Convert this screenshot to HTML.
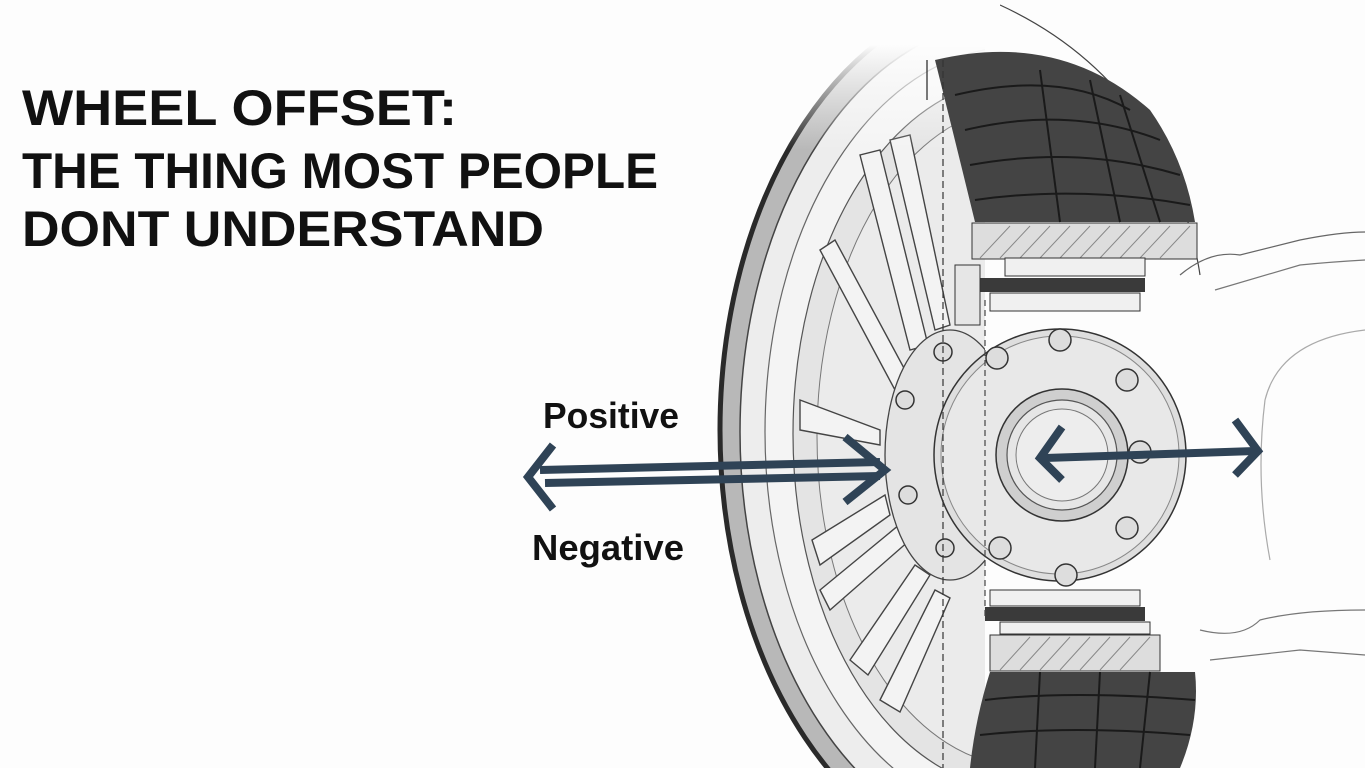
<!DOCTYPE html>
<html><head><meta charset="utf-8"><style>
html,body{margin:0;padding:0;background:#fff;width:1365px;height:768px;overflow:hidden}
svg{display:block}
</style></head><body>
<svg width="1365" height="768" viewBox="0 0 1365 768" xmlns="http://www.w3.org/2000/svg">
<defs>
<clipPath id="L"><rect x="0" y="0" width="985" height="768"/></clipPath>
<linearGradient id="fade" x1="0" y1="0" x2="0" y2="1">
<stop offset="0" stop-color="#fdfdfd"/><stop offset="0.3" stop-color="#fdfdfd"/><stop offset="1" stop-color="#fdfdfd" stop-opacity="0"/>
</linearGradient>
</defs>
<rect width="1365" height="768" fill="#fdfdfd"/>
<!-- car body outline -->
<path d="M1000 5 Q1120 60 1175 180 Q1195 240 1200 275" fill="none" stroke="#444" stroke-width="1.2"/>
<path d="M1180 275 Q1210 250 1240 255 Q1280 245 1300 240 Q1340 232 1365 232" fill="none" stroke="#666" stroke-width="1.2"/>
<path d="M1215 290 L1300 265 Q1330 262 1365 260" fill="none" stroke="#777" stroke-width="1.2"/>
<path d="M1265 400 Q1255 480 1270 560 M1265 400 Q1280 340 1365 330" fill="none" stroke="#aaa" stroke-width="1.2"/>
<path d="M1200 630 Q1240 640 1260 620 Q1300 610 1365 610 M1210 660 L1300 650 L1365 655" fill="none" stroke="#777" stroke-width="1.2"/>
<!-- tire sidewall + rim -->
<g clip-path="url(#L)">
<ellipse cx="1010" cy="430" rx="290" ry="435" fill="#b8b8b8" stroke="#2a2a2a" stroke-width="5"/>
<ellipse cx="1012" cy="432" rx="272" ry="412" fill="#ededed" stroke="#444" stroke-width="1.5"/>
<ellipse cx="1015" cy="432" rx="250" ry="385" fill="#f4f4f4" stroke="#666" stroke-width="1.2"/>
<ellipse cx="1018" cy="434" rx="225" ry="355" fill="#e4e4e4" stroke="#555" stroke-width="1.2"/>
<ellipse cx="1022" cy="436" rx="205" ry="330" fill="#ebebeb" stroke="#777" stroke-width="1"/>
<g stroke="#444" stroke-width="1.4" fill="#f3f3f3">
<path d="M860 155 L910 350 L928 345 L880 150 Z"/>
<path d="M890 140 L935 330 L950 325 L910 135 Z"/>
<path d="M820 250 L895 390 L905 370 L835 240 Z"/>
<path d="M800 400 L880 430 L880 445 L800 430 Z"/>
<path d="M812 540 L885 495 L890 515 L820 565 Z"/>
<path d="M820 590 L905 520 L910 540 L830 610 Z"/>
<path d="M850 660 L915 565 L930 575 L868 675 Z"/>
<path d="M880 700 L935 590 L950 598 L900 712 Z"/>
</g>
<ellipse cx="950" cy="455" rx="65" ry="125" fill="#e4e4e4" stroke="#444" stroke-width="1.3"/>
</g>
<rect x="700" y="0" width="300" height="150" fill="url(#fade)"/>
<!-- dark tread top -->
<path d="M935 60 Q1060 30 1150 110 Q1185 160 1195 222 L975 222 Q955 140 935 60 Z" fill="#444"/>
<g stroke="#1a1a1a" stroke-width="2" fill="none">
<path d="M955 95 Q1060 70 1130 110"/><path d="M965 130 Q1070 105 1160 140"/><path d="M970 165 Q1080 145 1180 175"/><path d="M975 200 Q1080 185 1190 205"/>
<path d="M1040 70 L1060 222"/><path d="M1090 80 L1120 222"/><path d="M1120 95 L1160 222"/>
</g>
<rect x="972" y="223" width="225" height="36" fill="#ddd" stroke="#333"/>
<g stroke="#888" stroke-width="1"><path d="M980 258 L1010 226 M1000 258 L1030 226 M1020 258 L1050 226 M1040 258 L1070 226 M1060 258 L1090 226 M1080 258 L1110 226 M1100 258 L1130 226 M1120 258 L1150 226 M1140 258 L1170 226 M1160 258 L1190 226"/></g>
<rect x="1005" y="258" width="140" height="18" fill="#f0f0f0" stroke="#333"/>
<rect x="975" y="278" width="170" height="14" fill="#3a3a3a"/>
<rect x="990" y="293" width="150" height="18" fill="#f0f0f0" stroke="#333"/>
<rect x="955" y="265" width="25" height="60" fill="#e6e6e6" stroke="#333"/>
<rect x="990" y="590" width="150" height="16" fill="#f0f0f0" stroke="#333"/>
<rect x="985" y="607" width="160" height="14" fill="#3a3a3a"/>
<rect x="1000" y="622" width="150" height="12" fill="#f0f0f0" stroke="#333"/>
<rect x="990" y="635" width="170" height="36" fill="#ddd" stroke="#333"/>
<g stroke="#888" stroke-width="1"><path d="M1000 670 L1030 637 M1020 670 L1050 637 M1040 670 L1070 637 M1060 670 L1090 637 M1080 670 L1110 637 M1100 670 L1130 637 M1120 670 L1150 637"/></g>
<path d="M990 672 L1195 672 Q1200 720 1180 768 L970 768 Q975 720 990 672 Z" fill="#444"/>
<g stroke="#1a1a1a" stroke-width="2" fill="none">
<path d="M985 700 Q1070 690 1195 700"/><path d="M980 735 Q1070 725 1190 735"/><path d="M1040 672 L1035 768"/><path d="M1100 672 L1095 768"/><path d="M1150 672 L1140 768"/>
</g>
<!-- hub -->
<circle cx="1060" cy="455" r="126" fill="#dedede" stroke="#333" stroke-width="1.5"/>
<circle cx="1060" cy="455" r="119" fill="#e8e8e8" stroke="#888" stroke-width="1"/>
<circle cx="1062" cy="455" r="66" fill="#cfcfcf" stroke="#333" stroke-width="1.5"/>
<circle cx="1062" cy="455" r="55" fill="#e6e6e6" stroke="#555" stroke-width="1.2"/>
<circle cx="1062" cy="455" r="46" fill="#ededed" stroke="#777" stroke-width="1"/>
<g fill="#ddd" stroke="#333" stroke-width="1.5">
<circle cx="997" cy="358" r="11"/><circle cx="1060" cy="340" r="11"/><circle cx="1127" cy="380" r="11"/>
<circle cx="1140" cy="452" r="11"/><circle cx="1127" cy="528" r="11"/><circle cx="1066" cy="575" r="11"/>
<circle cx="1000" cy="548" r="11"/><circle cx="943" cy="352" r="9"/><circle cx="905" cy="400" r="9"/>
<circle cx="908" cy="495" r="9"/><circle cx="945" cy="548" r="9"/>
</g>
<line x1="927" y1="60" x2="927" y2="100" stroke="#222" stroke-width="1.2"/>
<line x1="943" y1="60" x2="943" y2="768" stroke="#333" stroke-width="1.2" stroke-dasharray="7 4"/>
<line x1="985" y1="300" x2="985" y2="620" stroke="#444" stroke-width="1.2" stroke-dasharray="6 4"/>
<g stroke="#2f4356" stroke-width="8" fill="none" stroke-linecap="butt" stroke-linejoin="miter">
<line x1="540" y1="470" x2="880" y2="462"/>
<line x1="545" y1="483" x2="880" y2="476"/>
<polyline points="553,445 528,477 553,509"/>
<polyline points="845,437 885,470 845,502"/>
<line x1="1045" y1="458" x2="1255" y2="451"/>
<polyline points="1062,427 1040,458 1062,480"/>
<polyline points="1235,420 1258,451 1235,475"/>
</g>
<g font-family="'Liberation Sans Narrow','Liberation Sans',sans-serif" font-weight="bold" fill="#111">
<text x="22" y="125" font-size="50" textLength="435" lengthAdjust="spacingAndGlyphs">WHEEL OFFSET:</text>
<text x="22" y="188" font-size="50" textLength="636" lengthAdjust="spacingAndGlyphs">THE THING MOST PEOPLE</text>
<text x="22" y="246" font-size="50" textLength="522" lengthAdjust="spacingAndGlyphs">DONT UNDERSTAND</text>
<text x="543" y="428" font-size="36" textLength="136" lengthAdjust="spacingAndGlyphs">Positive</text>
<text x="532" y="560" font-size="36" textLength="152" lengthAdjust="spacingAndGlyphs">Negative</text>
</g>
</svg>
</body></html>
